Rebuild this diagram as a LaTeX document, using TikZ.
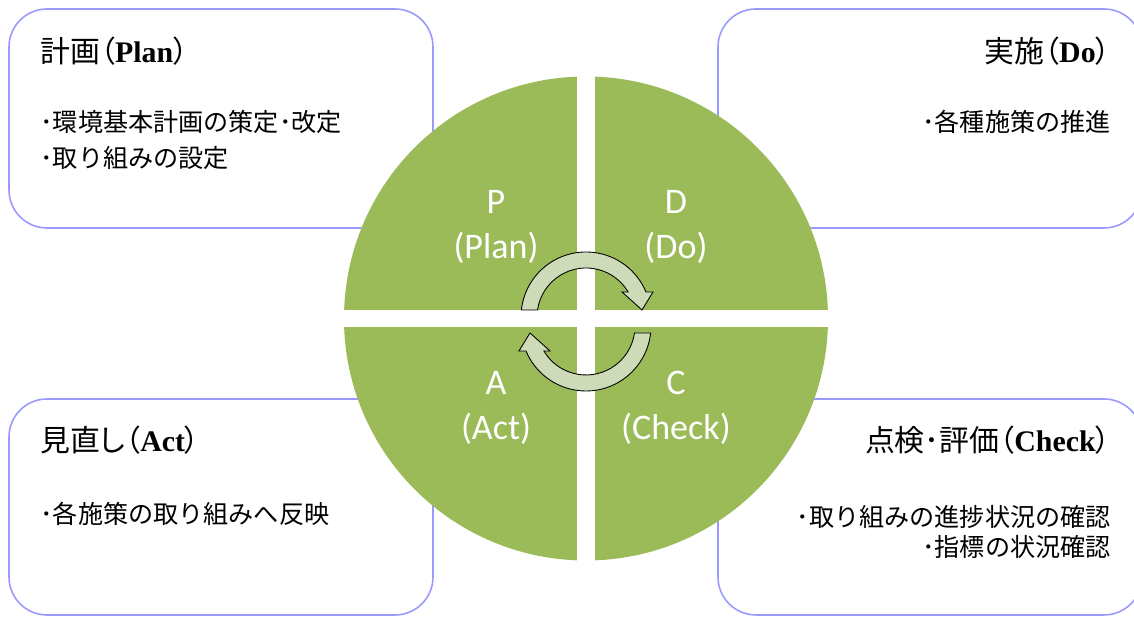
\documentclass[tikz,border=0pt]{standalone}
\usepackage{fontspec}
\setmainfont{Liberation Serif}
\newfontfamily\jpfont{Noto Sans CJK JP}
\newfontfamily\jphead{Noto Sans CJK JP}[RawFeature=+palt]
\newfontfamily\calfont{Carlito}
\usetikzlibrary{positioning}
\definecolor{leaf}{RGB}{155,187,89}
\definecolor{leaflight}{RGB}{205,219,184}
\definecolor{lavender}{RGB}{153,153,255}

\begin{document}
\begin{tikzpicture} [
    x=0.02cm, y=0.02cm,
    panel/.style={draw=lavender, line width=0.9pt, rounded corners=0.76cm},
    head/.style={inner sep=0pt, font=\fontsize{17pt}{20pt}\selectfont},
    items/.style={inner sep=0pt, font=\jpfont\fontsize{14.3pt}{20.5pt}\selectfont},
    phase/.style={text=white, align=center, inner sep=0pt, font=\calfont\fontsize{20.5pt}{25.5pt}\selectfont},
    turn/.style={draw=black, line width=0.5pt, fill=leaflight},
    node distance=3.6cm, on grid
    ]
    \path[use as bounding box, clip] (0,0) rectangle (1134,617);
    %Panels
    \draw[panel] (9,389) rectangle (433,608);
    \draw[panel] (718,389) rectangle (1142,608);
    \draw[panel] (9,2) rectangle (433,218);
    \draw[panel] (718,2) rectangle (1142,218);
    %Panel texts
    \node[head, anchor=west] (planhead) at (40,566) {{\jphead 計画（}\textbf{Plan}{\jphead ）}};
    \node[items, align=left] (planlist) [below=1.78cm of planhead.west, anchor=west] {･環境基本計画の策定･改定\\･取り組みの設定};
    \node[head, anchor=east] (dohead) at (1111,566) {{\jphead 実施（}\textbf{Do}{\jphead ）}};
    \node[items] (dolist) [below=1.42cm of dohead.east, anchor=east] {･各種施策の推進};
    \node[head, anchor=west] (acthead) at (40,177) {{\jphead 見直し（}\textbf{Act}{\jphead ）}};
    \node[items] (actlist) [below=1.48cm of acthead.west, anchor=west] {･各施策の取り組みへ反映};
    \node[head, anchor=east] (checkhead) at (1111,177) {{\jphead 点検･評価（}\textbf{Check}{\jphead ）}};
    \node[items, align=right, font=\jpfont\fontsize{14.3pt}{17pt}\selectfont] (checklist) [below=1.84cm of checkhead.east, anchor=east] {･取り組みの進捗状況の確認\\･指標の状況確認};
    %Wheel
    \fill[leaf] (586,298.5) circle[radius=242];
    \begin{scope}
        \clip (586,298.5) circle[radius=243];
        \fill[white] (577,0) rectangle (595,617);
        \fill[white] (0,290) rectangle (1134,307);
    \end{scope}
    %Arrows
    \begin{scope}[shift={(586,300)}]
        \draw[turn] (173.8:65) arc[start angle=173.8, end angle=22.6, radius=65] -- (67,25) -- (56,7) -- (36,25) -- (30.7:49) arc[start angle=30.7, end angle=171.8, radius=49] -- cycle;
    \end{scope}
    \begin{scope}[shift={(586,291)}, rotate=180]
        \draw[turn] (173.8:65) arc[start angle=173.8, end angle=22.6, radius=65] -- (67,25) -- (56,7) -- (36,25) -- (30.7:49) arc[start angle=30.7, end angle=171.8, radius=49] -- cycle;
    \end{scope}
    %Phases
    \node[phase] (p) at (496,390) {P\\(Plan)};
    \node[phase] (d) [right=of p] {D\\(Do)};
    \node[phase] (a) [below=3.62cm of p] {A\\(Act)};
    \node[phase] (c) [right=of a] {C\\(Check)};
\end{tikzpicture}
\end{document}
